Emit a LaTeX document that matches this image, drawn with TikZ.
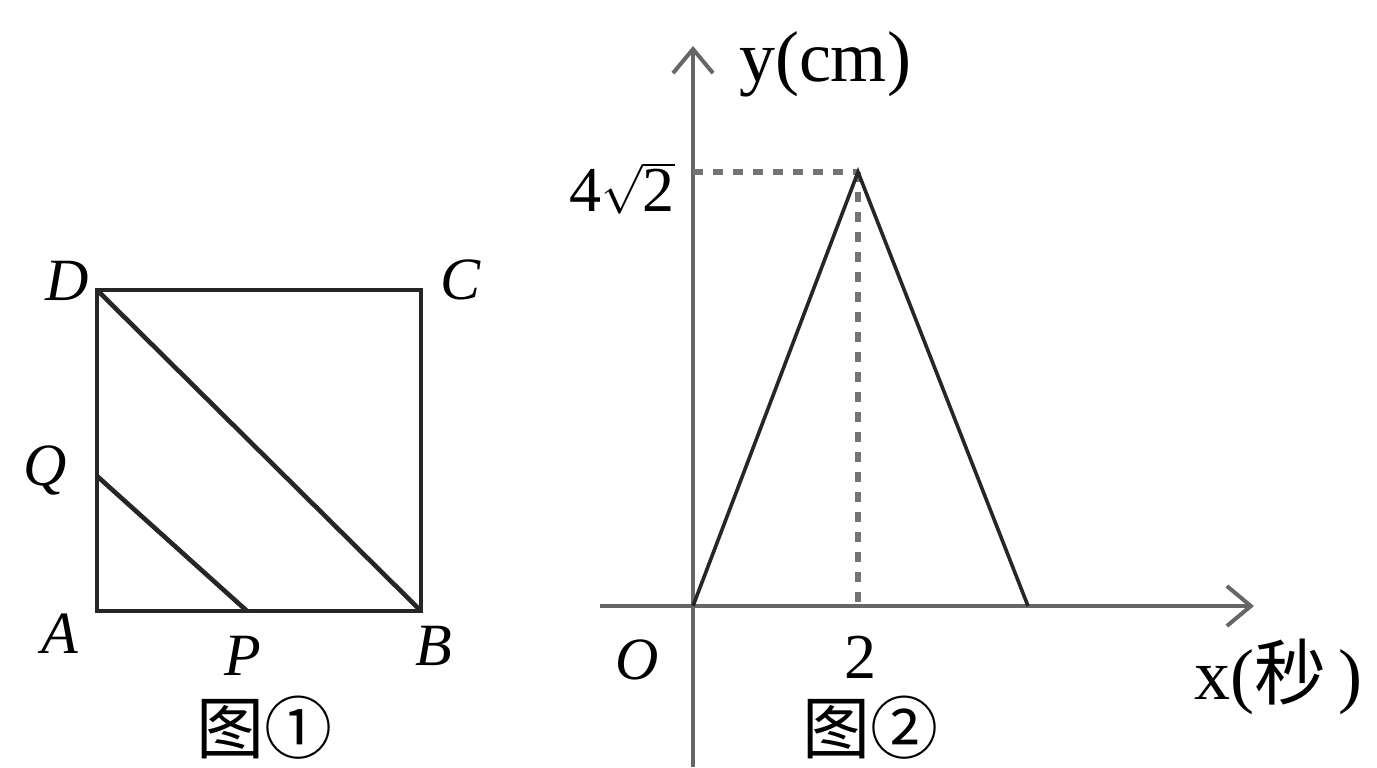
\documentclass[tikz,border=0pt]{standalone}
\usepackage{fontspec}
\setmainfont{Liberation Serif}
\newfontfamily\cjkfont{Noto Sans CJK SC}
\usetikzlibrary{arrows.meta}
\begin{document}
\begin{tikzpicture}[x=0.5pt,y=-0.5pt,
  edge/.style={line width=2.3pt,black!85,line join=miter},
  axis/.style={line width=2.4pt,black!60,-{Straight Barb[length=12pt,width=20pt,line width=2pt]}},
  plot/.style={line width=1.8pt,black!85},
  guide/.style={line width=3pt,black!55,dash pattern=on 5pt off 5pt},
  ptlbl/.style={font=\fontsize{30}{32}\selectfont\itshape,inner sep=0pt},
  numlbl/.style={font=\fontsize{32}{34}\selectfont,inner sep=0pt},
  unitlbl/.style={font=\fontsize{36}{38}\selectfont,inner sep=0pt},
  caption/.style={font=\fontsize{34}{36}\selectfont,inner sep=0pt}]
\useasboundingbox (0,0) rectangle (1377,767);
\fill[white] (0,0) rectangle (1377,767);
% figure 1
\coordinate (A) at (97,611);
\coordinate (B) at (421,611);
\coordinate (C) at (421,290);
\coordinate (D) at (97,290);
\coordinate (Q) at (97,476);
\coordinate (P) at (247,611);
\draw[edge] (A) -- (B) -- (C) -- (D) -- cycle;
\draw[edge] (D) -- (B);
\draw[edge] (Q) -- (P);
\node[ptlbl] (lD) at (67,281) {D};
\node[ptlbl] (lC) at (461,280) {C};
\node[ptlbl] (lQ) at (45,470) {Q};
\node[ptlbl] (lA) at (60,634) {A};
\node[ptlbl] (lP) at (243,656) {P};
\node[ptlbl] (lB) at (434,646) {B};
\node[caption] (cap1) at (264,728) {{\cjkfont 图①}};
% figure 2
\coordinate (O) at (693,606);
\coordinate (ybot) at (693,767);
\coordinate (ytop) at (693,46);
\coordinate (xleft) at (600,606);
\coordinate (xright) at (1254,606);
\coordinate (M) at (858,172);
\coordinate (E) at (1028,606);
\coordinate (Ym) at (693,172);
\coordinate (Xm) at (858,606);
\draw[axis] (ybot) -- (ytop);
\draw[axis] (xleft) -- (xright);
\draw[guide] (Ym) -- (M);
\draw[guide] (M) -- (Xm);
\draw[plot] (O) -- (M) -- (E);
\node[unitlbl] (ylab) at (825,64) {y(cm)};
\node[numlbl] (yval) at (622,188) {4$\sqrt{\mbox{2}}$};
\node[ptlbl] (lO) at (637,660) {O};
\node[numlbl] (xval) at (860,657) {2};
\node[unitlbl] (xlab) at (1278,677) {x({\cjkfont 秒}\,)};
\node[caption] (cap2) at (870,728) {{\cjkfont 图②}};
\end{tikzpicture}
\end{document}
